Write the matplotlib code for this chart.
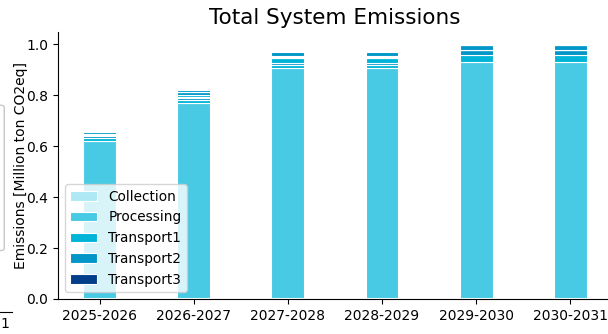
import matplotlib
matplotlib.use("Agg")
import matplotlib.pyplot as plt
from matplotlib.patches import FancyBboxPatch
from matplotlib.lines import Line2D
import numpy as np

periods = ["2025-2026", "2026-2027", "2027-2028", "2028-2029", "2029-2030", "2030-2031"]

collection = [0.002, 0.002, 0.002, 0.002, 0.002, 0.002]
processing = [0.619, 0.766, 0.903, 0.903, 0.928, 0.928]
# first transport leg
transport1 = [0.010, 0.012, 0.015, 0.015, 0.027, 0.027]
transport2 = [0.009, 0.009, 0.005, 0.005, 0.021, 0.021]
transport3 = [0.002, 0.002, 0.002, 0.002, 0.000, 0.000]
# second transport leg
transport1_b = [0.007, 0.010, 0.017, 0.017, 0.000, 0.000]
transport2_b = [0.008, 0.010, 0.006, 0.006, 0.020, 0.020]
transport3_b = [0.002, 0.002, 0.002, 0.002, 0.000, 0.000]
# third transport leg
transport2_c = [0.005, 0.007, 0.019, 0.019, 0.000, 0.000]

colors = {
    "Collection": "#ade8f4",
    "Processing": "#48cae4",
    "Transport1": "#00b4d8",
    "Transport2": "#0096c7",
    "Transport3": "#023e8a",
}

layers = [
    ("Collection", collection, True),
    ("Processing", processing, True),
    ("Transport1", transport1, True),
    ("Transport2", transport2, True),
    ("Transport3", transport3, True),
    ("Transport1", transport1_b, False),
    ("Transport2", transport2_b, False),
    ("Transport3", transport3_b, False),
    ("Transport2", transport2_c, False),
]

fig = plt.figure(figsize=(6.08, 3.34), dpi=100)
ax = fig.add_axes([0.0954, 0.1048, 0.911, 0.7995])

x = np.arange(len(periods))
bottom = np.zeros(len(periods))
for name, vals, labelled in layers:
    vals = np.asarray(vals)
    ax.bar(x, vals, width=0.35, bottom=bottom, color=colors[name],
           edgecolor="white", linewidth=0.8,
           label=name if labelled else "_nolegend_")
    bottom += vals

ax.set_xticks(x)
ax.set_xticklabels(periods, fontsize=10)
ax.tick_params(axis="y", labelsize=10)
ax.set_yticks([0.0, 0.2, 0.4, 0.6, 0.8, 1.0])
ax.set_ylim(0, bottom.max() * 1.05)
ax.set_xlim(-0.4425, 5.4425)
ax.set_ylabel("Emissions [Million ton CO2eq]", fontsize=10, labelpad=-1)
ax.set_title("Total System Emissions", fontsize=15.5)
ax.spines["top"].set_visible(False)
ax.spines["right"].set_visible(False)
ax.legend(loc="lower left", fontsize=9.8)

# edge of the neighbouring panel
fig.add_artist(FancyBboxPatch((-0.05, 0.25), 0.057, 0.435,
                              boxstyle="round,pad=0,rounding_size=0.006",
                              transform=fig.transFigure, facecolor="white",
                              edgecolor="#c8c8c8", linewidth=1.0))
fig.add_artist(Line2D([0.0, 0.02], [0.067, 0.067], transform=fig.transFigure,
                      color="black", linewidth=0.8))
fig.text(0.001, 0.03, "1", fontsize=10, ha="left", va="center")

fig.savefig("out.png", dpi=100)
